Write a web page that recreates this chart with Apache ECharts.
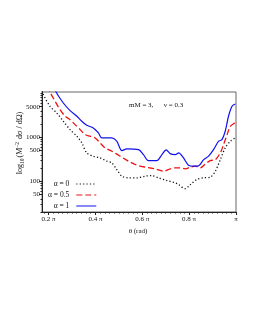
<!DOCTYPE html>
<html><head><meta charset="utf-8">
<script src="https://cdn.jsdelivr.net/npm/echarts@6/dist/echarts.min.js"></script>
<style>html,body{margin:0;padding:0;background:#fff}#c{width:255px;height:330px}</style>
</head><body><div id="c"></div>
<script>
// theta in units of pi, values of M^-2 dsigma/dOmega
const thetaA0 = [0.172,0.178,0.206,0.235,0.263,0.292,0.321,0.342,0.363,0.391,0.420,0.449,0.470,0.491,0.513,0.541,0.577,0.612,0.641,0.669,0.705,0.741,0.755,0.783,0.805,0.833,0.862,0.890,0.912,0.933,0.954,0.976,0.997];
const valA0   = [11500,9370,5110,3590,2330,1500,1062,748,443,373,341,287,262,185,131,120,120,131,135,120,104,92,84,68,84,110,120,124,170,312,576,818,972];

const thetaA05 = [0.195,0.206,0.228,0.249,0.271,0.292,0.313,0.335,0.356,0.377,0.399,0.420,0.441,0.470,0.506,0.541,0.577,0.612,0.655,0.691,0.719,0.741,0.762,0.784,0.805,0.826,0.848,0.869,0.890,0.912,0.933,0.947,0.962,0.976,0.990,1.0];
const valA05   = [15000,10800,6630,4270,3030,2530,1950,1500,1155,1062,972,748,576,484,373,287,233,210,192,170,192,202,202,192,210,221,202,249,296,312,443,684,1155,1790,2050,2130];

const thetaA1 = [0.220,0.232,0.263,0.292,0.321,0.342,0.363,0.391,0.413,0.427,0.449,0.470,0.491,0.513,0.534,0.584,0.605,0.626,0.662,0.684,0.702,0.719,0.741,0.755,0.776,0.797,0.819,0.840,0.862,0.883,0.904,0.926,0.940,0.954,0.968,0.983,0.997];
const valA1   = [16000,10790,6070,4060,3030,2330,1890,1640,1260,972,972,972,818,500,547,527,406,296,296,406,519,427,406,443,341,233,221,224,312,373,527,818,889,1380,3030,5110,5750];

const seriesNames = ['α = 0','α = 0.5','α = 1'];
const xTickValues = [0.2,0.4,0.6,0.8,1.0];
const xTickLabels = ['0.2 π','0.4 π','0.6 π','0.8 π','π'];
const xMinorTicks = [0.18,0.22,0.24,0.26,0.28,0.30,0.32,0.34,0.36,0.38,0.42,0.44,0.46,0.48,0.50,0.52,0.54,0.56,0.58,0.62,0.64,0.66,0.68,0.70,0.72,0.74,0.76,0.78,0.82,0.84,0.86,0.88,0.90,0.92,0.94,0.96,0.98];
const yTickLabels = [50,100,500,1000,5000];
const yMinorTicks = [20,30,40,60,70,80,90,200,300,400,600,700,800,900,2000,3000,4000,6000,7000,8000,9000,10000];
const xRange = [0.172,1.0];
const yRange = [20,10800];

const L = Math.log10;
const toPts = (xs, vs) => xs.map((x,i)=>[x, L(vs[i])]);
const FONT = 'Liberation Serif';

const chart = echarts.init(document.getElementById('c'), null, {renderer:'canvas'});
const grid = {left:42, right:19, top:92, bottom:118, show:true, borderColor:'#666', borderWidth:1, containLabel:false};
const option = {
  animation:false,
  backgroundColor:'#fff',
  grid: grid,
  title: {text:'mM = 3,      ν = 0.3', left:124, top:97, textStyle:{fontFamily:FONT, fontSize:7, fontWeight:'normal', color:'#111'}},
  legend: {
    orient:'vertical', left:43, top:175, align:'right', itemWidth:20, itemHeight:6, itemGap:3,
    itemStyle:{opacity:0},
    lineStyle:{width:1},
    textStyle:{fontFamily:FONT, fontSize:7.5, color:'#111', width:29, align:'left', padding:[0,2,0,0]},
    data: seriesNames
  },
  xAxis: [
    {type:'value', min:xRange[0], max:xRange[1], position:'bottom',
     axisLine:{lineStyle:{color:'#222', width:1}},
     axisTick:{show:true, customValues:xTickValues, length:3, lineStyle:{color:'#222'}},
     axisLabel:{customValues:xTickValues, formatter:(v)=>xTickLabels[xTickValues.findIndex(t=>Math.abs(t-v)<1e-6)] || '', fontFamily:FONT, fontSize:7, color:'#111', margin:4},
     splitLine:{show:false}},
    {type:'value', min:xRange[0], max:xRange[1], position:'bottom',
     axisLine:{show:false},
     axisTick:{show:true, customValues:xMinorTicks, length:1.5, lineStyle:{color:'#222'}},
     axisLabel:{show:false}, splitLine:{show:false}}
  ],
  yAxis: [
    {type:'value', min:L(yRange[0]), max:L(yRange[1]), position:'left',
     axisLine:{show:true, lineStyle:{color:'#222', width:1}},
     axisTick:{show:true, customValues:yTickLabels.map(L), length:3, lineStyle:{color:'#222'}},
     axisLabel:{customValues:yTickLabels.map(L), formatter:(v)=>String(Math.round(Math.pow(10,v))), fontFamily:FONT, fontSize:7, color:'#111', margin:2},
     splitLine:{show:false}},
    {type:'value', min:L(yRange[0]), max:L(yRange[1]), position:'left',
     axisLine:{show:false},
     axisTick:{show:true, customValues:yMinorTicks.map(L), length:1.5, lineStyle:{color:'#222'}},
     axisLabel:{show:false}, splitLine:{show:false}}
  ],
  graphic: [
    {type:'text', x:20, y:143, rotation:Math.PI/2,
     style:{text:'{n|log}{s|10}{n|(M}{p|−2}{n| dσ / dΩ)}', align:'center', verticalAlign:'middle',
       rich:{
         n:{fontFamily:FONT, fontSize:8, fill:'#111', verticalAlign:'middle'},
         s:{fontFamily:FONT, fontSize:5.5, fill:'#111', padding:[5,1,0,0], verticalAlign:'middle'},
         p:{fontFamily:FONT, fontSize:5.5, fill:'#111', padding:[0,1,5,0], verticalAlign:'middle'}
       }}},
    {type:'text', x:138, y:231, style:{text:'θ (rad)', align:'center', verticalAlign:'middle', fontFamily:FONT, fontSize:7, fill:'#111'}}
  ],
  series: [
    {name:seriesNames[0], type:'line', data:toPts(thetaA0,valA0), symbol:'none', smooth:0.3, clip:true,
     lineStyle:{color:'#111', width:1.3, type:[1.2,2.2]}, itemStyle:{color:'#111'}},
    {name:seriesNames[1], type:'line', data:toPts(thetaA05,valA05), symbol:'none', smooth:0.3, clip:true,
     lineStyle:{color:'#ee1111', width:1.3, type:[6,3]}, itemStyle:{color:'#ee1111'}},
    {name:seriesNames[2], type:'line', data:toPts(thetaA1,valA1), symbol:'none', smooth:0.3, clip:true,
     lineStyle:{color:'#1010ee', width:1.2, type:'solid'}, itemStyle:{color:'#1010ee'}}
  ]
};
chart.setOption(option);
</script></body></html>
